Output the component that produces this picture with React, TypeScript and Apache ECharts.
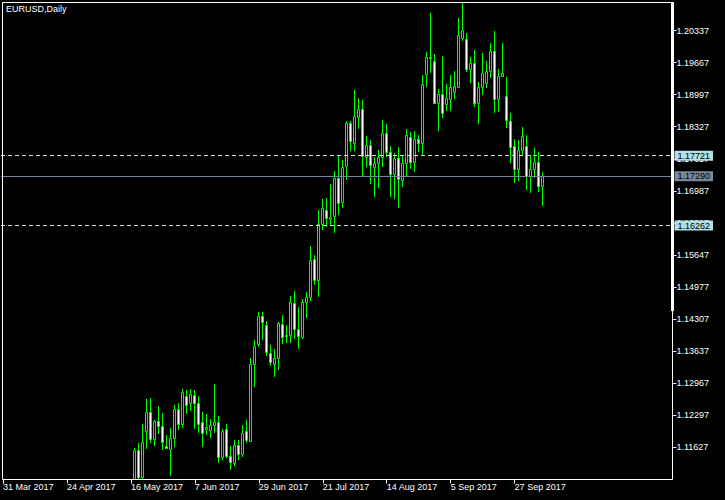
import React, { useEffect, useRef } from "react";
import * as echarts from "echarts";

const TITLE = "EURUSD,Daily";
const START_DATE = "2017-03-31";
const SLOT_COUNT = 168;
const FIRST_BAR = 33;
const LABEL_EVERY = 16;
const LAST_LABEL = 128;

const opens = [
  1.1095, 1.1157, 1.1101, 1.1197, 1.1236, 1.1180, 1.1218, 1.1208, 1.1165, 1.1160,
  1.1183, 1.1242, 1.1211, 1.1270, 1.1255, 1.1273, 1.1255, 1.1215, 1.1201, 1.1200,
  1.1209, 1.1215, 1.1142, 1.1202, 1.1145, 1.1131, 1.1167, 1.1150, 1.1196, 1.1177,
  1.1336, 1.1378, 1.1438, 1.1418, 1.1361, 1.1337, 1.1349, 1.1420, 1.1397, 1.1397,
  1.1464, 1.1411, 1.1394, 1.1467, 1.1477, 1.1556, 1.1512, 1.1629, 1.1658, 1.1640,
  1.1647, 1.1725, 1.1675, 1.1751, 1.1840, 1.1799, 1.1854, 1.1869, 1.1770, 1.1794,
  1.1749, 1.1756, 1.1770, 1.1820, 1.1780, 1.1734, 1.1767, 1.1721, 1.1757, 1.1812,
  1.1759, 1.1808, 1.1798, 1.1943, 1.1977, 1.1971, 1.1882, 1.1902, 1.1880, 1.1891,
  1.1906, 1.1915, 1.2019, 1.2015, 1.1953, 1.1965, 1.1883, 1.1916, 1.1923, 1.1950,
  1.1991, 1.1891, 1.1939, 1.1897, 1.1845, 1.1792, 1.1744, 1.1785, 1.1793, 1.1730,
  1.1744, 1.1758, 1.1709,
];
const highs = [
  1.1161, 1.1172, 1.1211, 1.1264, 1.1267, 1.1220, 1.1249, 1.1234, 1.1188, 1.1204,
  1.1251, 1.1255, 1.1284, 1.1282, 1.1284, 1.1282, 1.1270, 1.1236, 1.1232, 1.1223,
  1.1295, 1.1228, 1.1201, 1.1211, 1.1165, 1.1178, 1.1178, 1.1209, 1.1220, 1.1349,
  1.1388, 1.1445, 1.1445, 1.1427, 1.1376, 1.1368, 1.1425, 1.1439, 1.1418, 1.1479,
  1.1489, 1.1456, 1.1473, 1.1487, 1.1583, 1.1564, 1.1659, 1.1681, 1.1683, 1.1713,
  1.1740, 1.1773, 1.1763, 1.1845, 1.1845, 1.1909, 1.1893, 1.1888, 1.1813, 1.1805,
  1.1770, 1.1784, 1.1847, 1.1838, 1.1792, 1.1777, 1.1790, 1.1773, 1.1827, 1.1822,
  1.1824, 1.1815, 1.1941, 1.1989, 1.2070, 1.1985, 1.1911, 1.1980, 1.1922, 1.1941,
  1.1949, 1.2059, 1.2092, 1.2029, 1.1978, 1.1994, 1.1927, 1.1986, 1.1970, 1.2007,
  1.2033, 1.1953, 1.2007, 1.1936, 1.1861, 1.1806, 1.1805, 1.1833, 1.1815, 1.1773,
  1.1788, 1.1779, 1.1739,
];
const lows = [
  1.1088, 1.1088, 1.1096, 1.1159, 1.1172, 1.1165, 1.1190, 1.1157, 1.1159, 1.1103,
  1.1163, 1.1200, 1.1204, 1.1233, 1.1239, 1.1201, 1.1193, 1.1164, 1.1189, 1.1183,
  1.1192, 1.1130, 1.1136, 1.1140, 1.1116, 1.1124, 1.1136, 1.1143, 1.1171, 1.1175,
  1.1289, 1.1373, 1.1388, 1.1353, 1.1332, 1.1310, 1.1324, 1.1378, 1.1381, 1.1381,
  1.1389, 1.1368, 1.1389, 1.1433, 1.1468, 1.1502, 1.1477, 1.1617, 1.1623, 1.1627,
  1.1611, 1.1648, 1.1662, 1.1721, 1.1782, 1.1782, 1.1828, 1.1727, 1.1749, 1.1714,
  1.1686, 1.1704, 1.1749, 1.1769, 1.1686, 1.1681, 1.1662, 1.1707, 1.1730, 1.1744,
  1.1739, 1.1780, 1.1773, 1.1915, 1.1945, 1.1880, 1.1824, 1.1850, 1.1866, 1.1866,
  1.1890, 1.1913, 1.2012, 1.1948, 1.1925, 1.1873, 1.1838, 1.1899, 1.1913, 1.1934,
  1.1861, 1.1864, 1.1936, 1.1831, 1.1756, 1.1716, 1.1720, 1.1773, 1.1700, 1.1695,
  1.1725, 1.1697, 1.1667,
];
const closes = [
  1.1157, 1.1101, 1.1173, 1.1236, 1.1180, 1.1218, 1.1208, 1.1173, 1.1162, 1.1183,
  1.1242, 1.1211, 1.1278, 1.1252, 1.1275, 1.1255, 1.1211, 1.1192, 1.1205, 1.1209,
  1.1216, 1.1143, 1.1197, 1.1144, 1.1132, 1.1167, 1.1150, 1.1192, 1.1179, 1.1336,
  1.1375, 1.1438, 1.1424, 1.1362, 1.1341, 1.1349, 1.1422, 1.1394, 1.1396, 1.1466,
  1.1411, 1.1396, 1.1466, 1.1476, 1.1554, 1.1512, 1.1629, 1.1662, 1.1641, 1.1645,
  1.1725, 1.1674, 1.1749, 1.1840, 1.1802, 1.1855, 1.1869, 1.1771, 1.1794, 1.1752,
  1.1757, 1.1770, 1.1819, 1.1780, 1.1734, 1.1767, 1.1723, 1.1756, 1.1815, 1.1759,
  1.1808, 1.1798, 1.1921, 1.1978, 1.1978, 1.1882, 1.1902, 1.1862, 1.1892, 1.1915,
  1.1918, 1.2024, 1.2035, 1.1953, 1.1965, 1.1883, 1.1916, 1.1944, 1.1950, 1.1991,
  1.1891, 1.1939, 1.1945, 1.1846, 1.1791, 1.1744, 1.1785, 1.1813, 1.1730, 1.1744,
  1.1758, 1.1709, 1.1729,
];

const yTicks = [
  1.11627, 1.12297, 1.12967, 1.13637, 1.14307, 1.14977, 1.15647,
  1.16317, 1.16987, 1.17657, 1.18327, 1.18997, 1.19667, 1.20337,
];
const levelLines = [1.17721, 1.16262];
const bidPrice = 1.1729;
const yMin = 1.10957;
const yMax = 1.20922;

const MONTHS = ["Jan", "Feb", "Mar", "Apr", "May", "Jun", "Jul", "Aug", "Sep", "Oct", "Nov", "Dec"];

function tradingDays(start: string, n: number): string[] {
  const out: string[] = [];
  const d = new Date(start + "T00:00:00Z");
  while (out.length < n) {
    const wd = d.getUTCDay();
    if (wd !== 0 && wd !== 6) {
      out.push(`${d.getUTCDate()} ${MONTHS[d.getUTCMonth()]} ${d.getUTCFullYear()}`);
    }
    d.setUTCDate(d.getUTCDate() + 1);
  }
  return out;
}

const FONT = "'Liberation Sans', Arial, sans-serif";
const WICK = "#00ff00";

export default function App() {
  const ref = useRef<HTMLDivElement>(null);
  useEffect(() => {
    if (!ref.current) return;
    const chart = echarts.init(ref.current, undefined, { renderer: "svg" });
    const categories = tradingDays(START_DATE, SLOT_COUNT);
    const data = opens.map((o, k) => [FIRST_BAR + k, o, closes[k], lows[k], highs[k]]);
    const showLabel = (i: number) => i % LABEL_EVERY === 0 && i <= LAST_LABEL;

    const renderItem = (params: any, api: any) => {
      const i = api.value(0);
      const o = api.value(1);
      const c = api.value(2);
      const l = api.value(3);
      const h = api.value(4);
      const cs = params.coordSys;
      const yTop = cs.y;
      const yBot = cs.y + cs.height;
      const clampY = (y: number) => Math.min(Math.max(y, yTop), yBot);
      const pO = api.coord([i, o]);
      const pC = api.coord([i, c]);
      const pL = api.coord([i, l]);
      const pH = api.coord([i, h]);
      const cx = Math.floor(pO[0]) + 0.5;
      const bodyTop = Math.round(clampY(Math.min(pO[1], pC[1]))) + 0.5;
      const bodyBot = Math.round(clampY(Math.max(pO[1], pC[1]))) + 0.5;
      const wTop = Math.round(clampY(pH[1]));
      const wBot = Math.round(clampY(pL[1]));
      const bull = c >= o;
      return {
        type: "group",
        children: [
          {
            type: "line",
            shape: { x1: cx, y1: wTop, x2: cx, y2: wBot },
            style: { stroke: WICK, lineWidth: 1 },
          },
          {
            type: "rect",
            shape: { x: cx - 1, y: bodyTop, width: 2, height: Math.max(bodyBot - bodyTop, 0) },
            style: { fill: bull ? "#000000" : "#ffffff", stroke: WICK, lineWidth: 1 },
          },
        ],
      };
    };

    const lvlLabel = { backgroundColor: "#b0e0e6" };
    chart.setOption({
      animation: false,
      backgroundColor: "#000000",
      grid: { left: 0.5, top: 2.5, width: 672, height: 477 },
      xAxis: {
        type: "category",
        data: categories,
        boundaryGap: true,
        axisLine: { show: false },
        axisTick: {
          show: true,
          alignWithLabel: true,
          interval: (i: number) => showLabel(i),
          length: 4,
          lineStyle: { color: "#ffffff", width: 1 },
        },
        axisLabel: {
          interval: (i: number) => showLabel(i),
          color: "#ffffff",
          fontFamily: FONT,
          fontSize: 9,
          align: "left",
          margin: 3,
        },
        splitLine: { show: false },
      },
      yAxis: {
        type: "value",
        position: "right",
        min: yMin,
        max: yMax,
        axisLine: { show: false },
        axisTick: {
          show: true,
          length: 4,
          lineStyle: { color: "#ffffff", width: 1 },
          customValues: yTicks,
        },
        axisLabel: {
          customValues: yTicks,
          formatter: (v: number) => v.toFixed(5),
          color: "#ffffff",
          fontFamily: FONT,
          fontSize: 9,
          margin: 4,
        },
        splitLine: { show: false },
      },
      series: [
        {
          type: "custom",
          renderItem,
          data,
          clip: true,
          encode: { x: 0, y: [1, 2, 3, 4] },
          silent: true,
        },
        {
          type: "line",
          data: [],
          silent: true,
          markLine: {
            silent: true,
            symbol: ["none", "none"],
            precision: 5,
            z: 10,
            label: {
              show: true,
              position: "end",
              distance: 2,
              formatter: (p: any) => Number(p.value).toFixed(5),
              color: "#000000",
              fontFamily: FONT,
              fontSize: 9,
              lineHeight: 10,
              padding: [0, 3, 0, 3],
            },
            data: [
              {
                yAxis: levelLines[0],
                lineStyle: { color: "#dcdcdc", type: [4, 3], width: 1 },
                label: lvlLabel,
              },
              {
                yAxis: levelLines[1],
                lineStyle: { color: "#dcdcdc", type: [4, 3], width: 1 },
                label: lvlLabel,
              },
              {
                yAxis: bidPrice,
                lineStyle: { color: "#778899", type: "solid", width: 1 },
                label: { backgroundColor: "#778899" },
              },
            ],
          },
        },
      ],
      graphic: [
        {
          type: "rect",
          z: 100,
          silent: true,
          shape: { x: 2.5, y: 2.5, width: 670, height: 477 },
          style: { fill: "none", stroke: "#ffffff", lineWidth: 1 },
        },
        {
          type: "rect",
          z: 100,
          silent: true,
          shape: { x: 671, y: 2, width: 3, height: 309 },
          style: { fill: "#ffffff" },
        },
        {
          type: "text",
          z: 100,
          silent: true,
          left: 6,
          top: 4,
          style: { text: TITLE, fill: "#ffffff", font: `9px ${FONT}` },
        },
      ],
    });
    return () => chart.dispose();
  }, []);
  return (
    <div
      ref={ref}
      style={{ position: "absolute", left: 0, top: 0, width: 725, height: 500, background: "#000" }}
    />
  );
}
